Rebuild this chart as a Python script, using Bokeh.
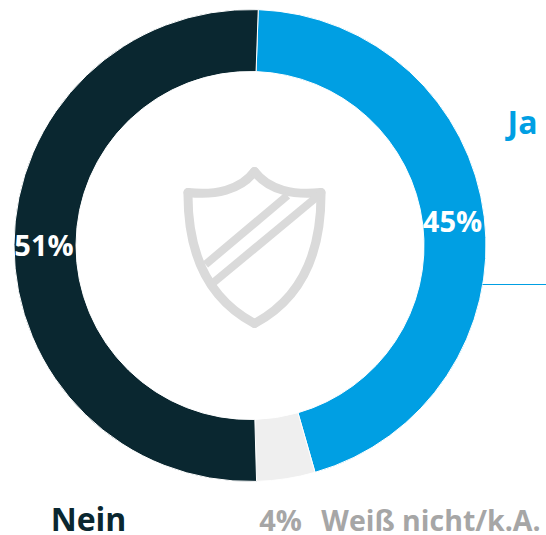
import math
from bokeh.plotting import figure
from bokeh.models import Range1d
from bokeh.embed import file_html
from bokeh.resources import INLINE
from bokeh.core.properties import value

categories = ["Ja", "Weiß nicht/k.A.", "Nein"]
shares = [45, 4, 51]
colors = ["#009FE3", "#EFEFEF", "#0A2730"]
W, H = 546, 535
FONT = "Open Sans"

p = figure(width=W, height=H, output_backend="svg", toolbar_location=None,
           x_range=Range1d(0, W), y_range=Range1d(0, H), min_border=0)
p.axis.visible = False
p.grid.visible = False
p.outline_line_color = None
p.background_fill_color = "white"
p.border_fill_color = "white"


def Y(y):
    return H - y


cx, cy, r0, r1 = 249.5, Y(245), 174, 236
start = 2.0
angle = start
mids = []
for s, c in zip(shares, colors):
    a0 = angle
    a1 = angle + s * 3.6
    angle = a1
    mids.append((a0 + a1) / 2)
    # clockwise from the top
    p.annular_wedge([cx], [cy], r0, r1, start_angle=math.radians(90 - a1), end_angle=math.radians(90 - a0),
                    fill_color=c, line_color="white", line_width=1)

# leader line from the blue ring to the "Ja" label
p.line([482, W], [Y(284), Y(284)], line_color="#009FE3", line_width=1.2)

# shield icon
SH = "#DADADA"
lw = 9
bez = [
    ((187.5, 192), (214, 195), (240, 190), (254, 171)),
    ((320.5, 192), (294, 195), (268, 190), (254, 171)),
    ((187.5, 192), (187, 250), (205, 297), (254, 323)),
    ((320.5, 192), (321, 250), (303, 297), (254, 323)),
]
for a, b, c, d in bez:
    p.bezier(x0=[a[0]], y0=[Y(a[1])], cx0=[b[0]], cy0=[Y(b[1])], cx1=[c[0]], cy1=[Y(c[1])],
             x1=[d[0]], y1=[Y(d[1])], line_color=SH, line_width=lw, line_cap="round")
p.line([205, 287], [Y(264), Y(195)], line_color=SH, line_width=8)
p.line([213, 318], [Y(282), Y(195)], line_color=SH, line_width=8)

# percent labels on ring
rl = 205
for i in (0, 2):
    m = math.radians(mids[i])
    p.text([cx + rl * math.sin(m) - 1], [cy + rl * math.cos(m)], text=[f"{shares[i]}%"], text_color="white",
           text_font=value(FONT), text_font_style="bold", text_font_size="29px",
           text_align="center", text_baseline="middle")

# category labels
def lab(x, y, t, col, size, align="center"):
    p.text([x], [Y(y)], text=[t], text_color=col, text_font=value(FONT), text_font_style="bold",
           text_font_size=size, text_align=align, text_baseline="middle")


lab(522, 121, categories[0], "#009FE3", "32px")
lab(88, 518, categories[2], "#0A2730", "32px")
lab(280, 519, f"{shares[1]}%", "#A6A6A6", "29px")
lab(430.5, 519, categories[1], "#A6A6A6", "28.5px")

open("out.html", "w").write(file_html(p, INLINE))
